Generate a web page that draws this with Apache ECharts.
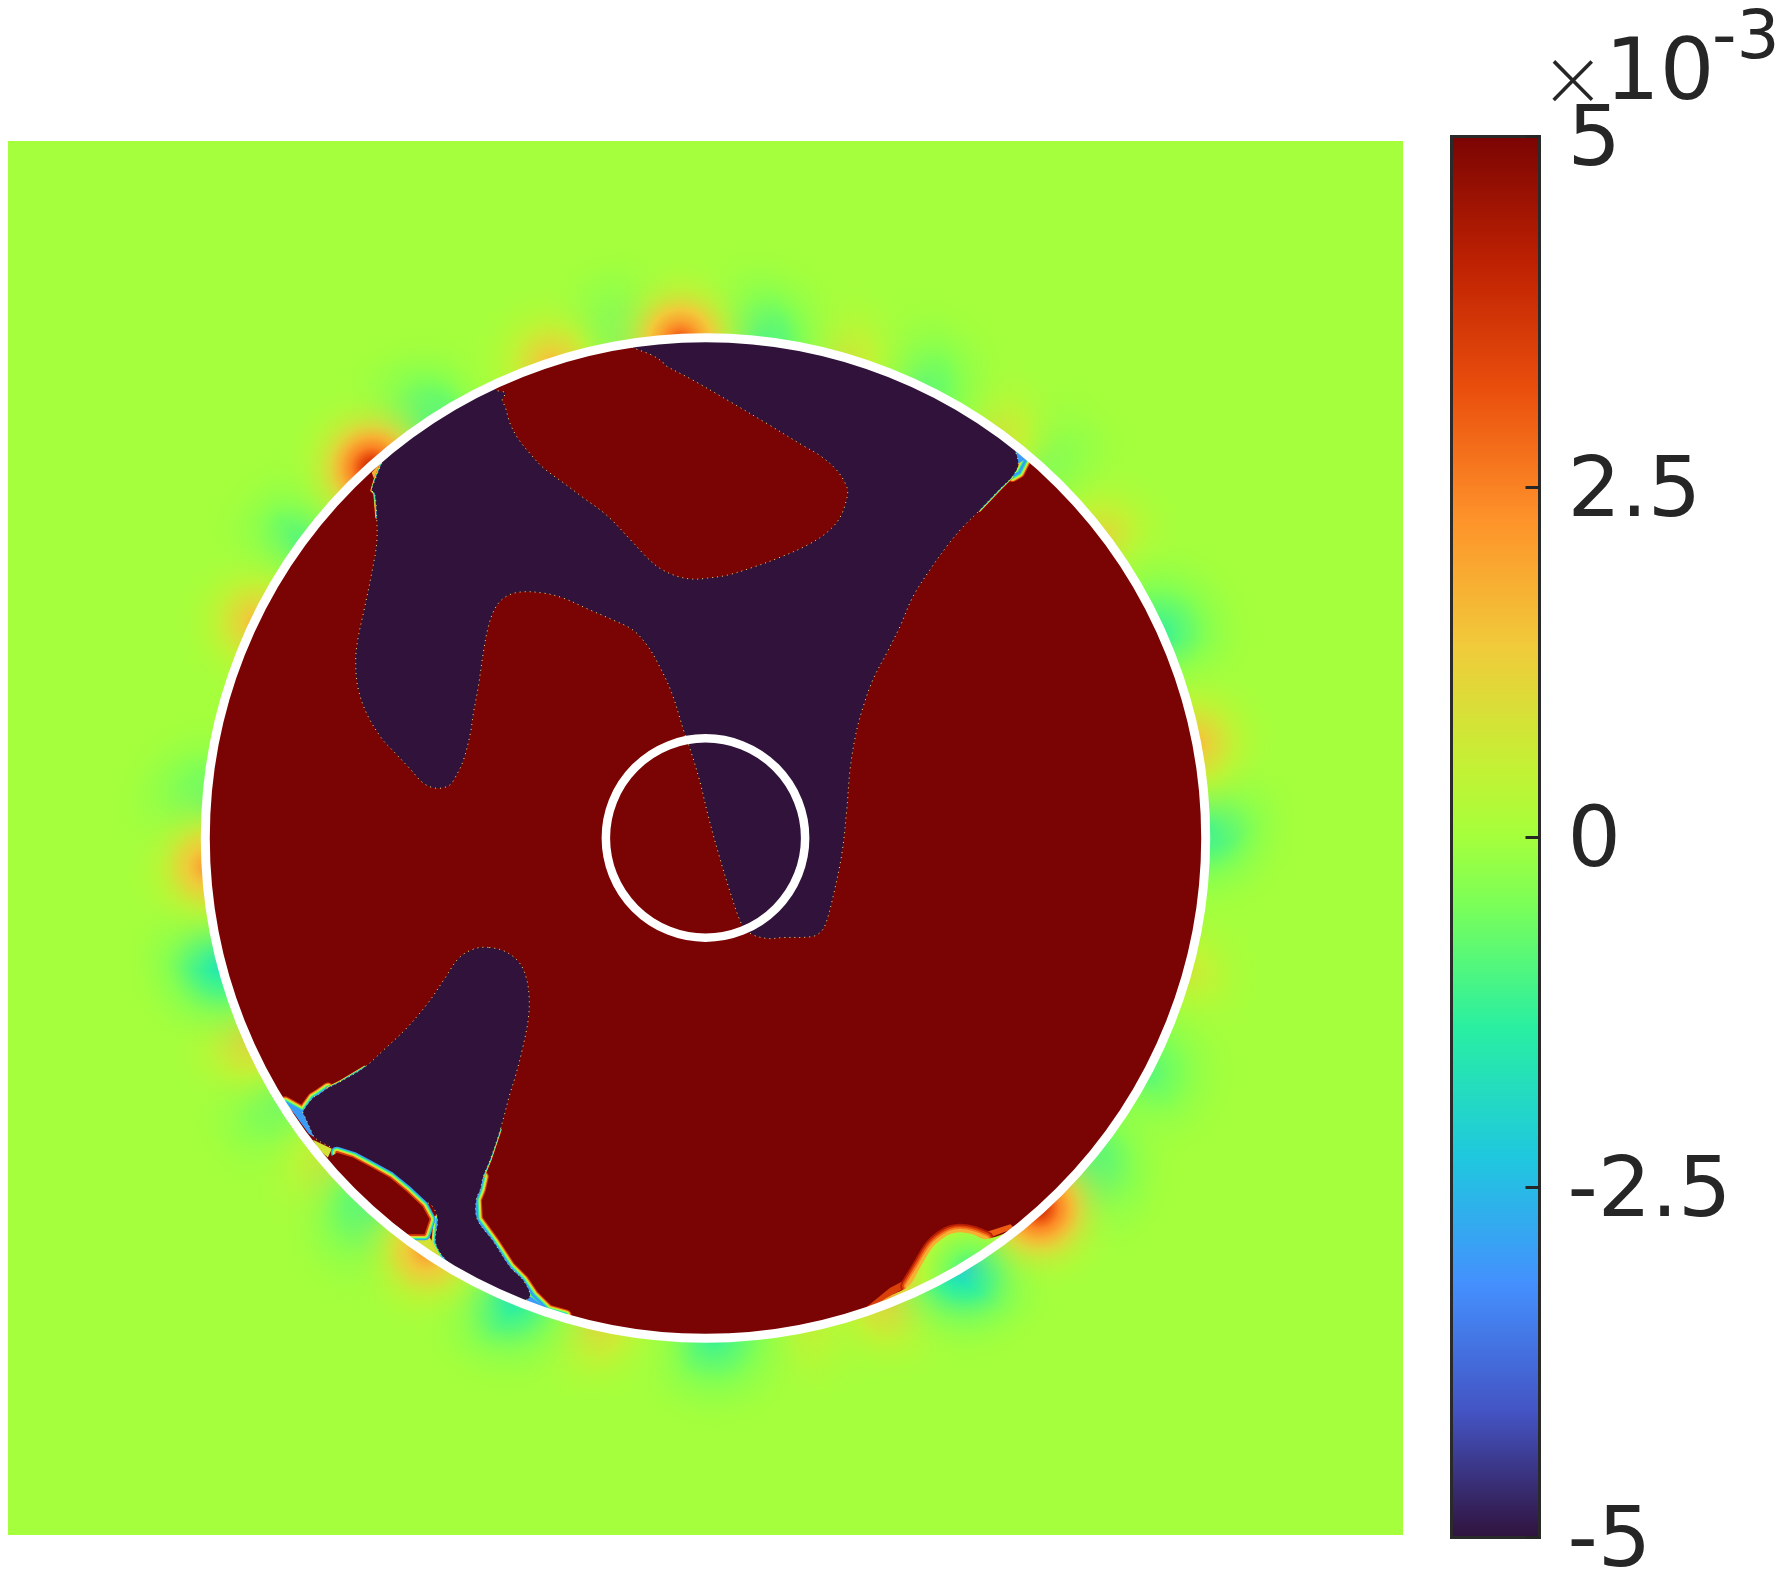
<!DOCTYPE html>
<html lang="en">
<head>
  <meta charset="UTF-8">
  <title>Field around a ring</title>
  <style>
    body{
      margin: 0;
      background: white;
    }
    .chart{
      width: 100vw;
      height: 100vh;
    }
  </style>
</head>
<body>
<div class="chart"></div>
<script src="https://cdn.jsdelivr.net/npm/echarts@6/dist/echarts.min.js"></script>
<script>
  // colour scale, bottom (-5) to top (5)
  const colorbarStops = ['#30123b','#4454c4','#4490fe','#1fc8de','#29efa2','#7dff56','#a5ff3c','#c1f334','#f1ca3a','#fe922a','#ea4f0d','#be2102','#7a0403'];
  const colorbarOffsets = [0,0.0909,0.1818,0.2727,0.3636,0.4545,0.5,0.5454,0.6363,0.7272,0.8181,0.9090,1];
  const colorbarMin = -5;
  const colorbarMax = 5;
  const colorbarStep = 2.5;

  // geometry in mm
  const plotRange = 700;
  const outerRadius = 502;
  const innerRadius = 100;

  // field just outside the outer ring (angle in degrees, value in 1e-3)
  const rimAngles = [92.9,99.6,84.2,108,124.5,132,144,154.3,176.5,183.3,194.2,203.3,212,222,229,236,246.7,257,271,282,292,301.3,312,318.3,332,344,1.5,11,24.3,37,48,54.6,64.9,74.2];
  const rimValues = [3,-1.5,-1.2,1.5,-1.3,3.8,-1,1.5,-1,2,-1.6,1.5,-1,1.3,-1.4,2,-1.5,1.2,-1.1,0.7,1.5,-2,3.7,-1.6,-0.8,0.7,-1.3,1.5,-1.1,1,-0.9,0.9,-0.9,0.9];

  // -5 region boundaries
  const darkNorthEdge = [[314,376],[308,363],[296,351],[275,329],[258,312],[243,294],[225,269],[208,242],[195,212],[182,186],[168,159],[158,131],[151,105],[145,68],[142,31],[137,-15],[128,-59],[121,-85],[116,-94],[107,-99],[77,-100],[63,-101],[47,-97],[38,-89],[33,-79],[24,-52],[14,-19],[3,21],[-6,58],[-15,88],[-21,105],[-34,146],[-48,176],[-59,194],[-73,209],[-93,219],[-116,229],[-143,241],[-163,246],[-186,247],[-201,242],[-211,231],[-218,212],[-223,186],[-228,152],[-233,125],[-236,105],[-243,78],[-250,63],[-257,53],[-270,50],[-283,55],[-297,70],[-314,88],[-325,100],[-340,125],[-349,152],[-351,179],[-349,199],[-342,232],[-335,266],[-330,296],[-330,322],[-332,346],[-335,349],[-332,359],[-324,379]];
  const darkSouthRight = [[-217,-110],[-201,-114],[-187,-125],[-180,-140],[-177,-160],[-178,-183],[-184,-213],[-191,-240],[-196,-256],[-206,-293],[-216,-323],[-223,-340],[-226,-353],[-230,-363],[-229,-383],[-213,-405],[-196,-431],[-183,-444],[-176,-460]];
  const darkSouthLeft = [[-263,-421],[-271,-406],[-269,-383],[-274,-370],[-284,-363],[-300,-348],[-317,-336],[-340,-325],[-360,-316],[-377,-310],[-392,-301],[-397,-291],[-402,-280],[-404,-275],[-394,-261],[-389,-258],[-379,-251],[-367,-245],[-342,-230],[-321,-211],[-300,-191],[-278,-165],[-261,-140],[-247,-120],[-231,-111]];

  // +5 pockets cut into the -5 region
  const lobeEdge = [[-74,493],[-54,485],[-43,478],[-41,475],[-13,460],[25,438],[62,416],[98,394],[115,384],[132,369],[142,352],[142,342],[135,322],[122,307],[102,294],[75,282],[48,272],[22,264],[2,261],[-13,260],[-29,263],[-46,271],[-58,281],[-73,297],[-99,324],[-123,342],[-143,357],[-163,372],[-176,386],[-188,401],[-196,416],[-201,433],[-204,440],[-201,447],[-211,450]];
  const lensEdge = [[-370,-316],[-354,-321],[-337,-330],[-317,-341],[-300,-355],[-284,-370],[-277,-383],[-282,-398],[-300,-398]];

  // sharp fronts between the two saturated regions
  const wideFronts = [
    [[322,381],[315,367],[308,363]],
    [[-223,-340],[-226,-353],[-230,-363],[-229,-383],[-213,-405],[-196,-431],[-183,-444],[-173,-459],[-158,-474],[-140,-479]],
    [[-404,-275],[-394,-261],[-389,-258],[-379,-251]],
    [[-422,-265],[-404,-275]]
  ];
  const thinFronts = [
    [[308,363],[296,351],[275,329]],
    [[-74,493],[-54,485],[-43,478],[-41,475],[-13,460]],
    [[-211,450],[-201,447],[-204,440],[-201,433],[-196,416],[-188,401],[-176,386]],
    [[-330,322],[-332,346],[-335,349],[-332,359],[-324,379]],
    [[-206,-293],[-216,-323],[-223,-340]],
    [[-379,-251],[-367,-245],[-342,-230]]
  ];
  const footFronts = [[[-269,-383],[-271,-406],[-263,-421],[-250,-431]]];
  const frontLevels = [3.5,1.5,0,-1.5,-3];

  // small patches against the ring
  const warmPatches = [
    [[-213,450],[-181,466],[-201,447]],
    [[-335,367],[-324,379],[-332,359]],
    [[-394,-303],[-375,-312],[-379,-321],[-388,-313]],
    [[-300,-399],[-277,-401],[-262,-423],[-250,-431],[-281,-415]],
    [[153,-478],[185,-452],[204,-442],[204,-450],[185,-460]],
    [[281,-396],[306,-388],[310,-392],[281,-403]]
  ];
  const warmPatchValues = [3,1.8,0.8,0.8,3.5,3];
  const bluePatches = [
    [[306,394],[322,381],[314,376]],
    [[-420,-267],[-404,-275],[-397,-291],[-392,-301],[-398,-297]],
    [[-183,-463],[-176,-460],[-158,-474]]
  ];
  const bluePatchValues = [-3,-3,-3];

  // field bulge at the lower right, inside the ring
  const bulgeEdge = [[153,-478],[185,-460],[204,-450],[215,-432],[228,-411],[243,-399],[255,-396],[268,-398],[281,-403],[306,-395]];
  const bulgeCentre = [265,-436];
  const bulgeValues = [-1.2,-0.5,0.2,1.2,2.2];
  const bulgeOffsets = [0,0.25,0.5,0.8,1];
  const bulgeFrontLevels = [4.2,3.4,2.6,1.8];

  const scaleColor = (v) => {
    const t = (v - colorbarMin) / (colorbarMax - colorbarMin);
    for (let i = 1; i < colorbarOffsets.length; i++) {
      if (t <= colorbarOffsets[i]) {
        const f = (t - colorbarOffsets[i - 1]) / (colorbarOffsets[i] - colorbarOffsets[i - 1]);
        return echarts.color.lerp(f, [colorbarStops[i - 1], colorbarStops[i]]);
      }
    }
    return colorbarStops[colorbarStops.length - 1];
  };

  const rimArc = (from, to) => {
    const pts = [];
    const n = Math.ceil(Math.abs(to - from) / 4);
    for (let i = 0; i <= n; i++) {
      const a = (from + (to - from) * i / n) * Math.PI / 180;
      pts.push([500 * Math.cos(a), 500 * Math.sin(a)]);
    }
    return pts;
  };

  const darkNorth = [...rimArc(130.4, 52.2), ...darkNorthEdge];
  const darkSouth = [...darkSouthRight, ...rimArc(248.4, 240.3), ...darkSouthLeft];
  const lobe = [...lobeEdge, ...rimArc(115, 98.5)];
  const lens = [...lensEdge, ...rimArc(233, 220.3)];
  const bulge = [...bulgeEdge, ...rimArc(307.8, 287.7)];

  const dotted = { stroke: '#e6e67c', lineWidth: 1, lineDash: [1, 4] };

  // one custom layer drawn from a list of data points
  const layer = (rows, draw) => ({
    type: 'custom',
    xAxisIndex: 0,
    yAxisIndex: 0,
    silent: true,
    clip: true,
    encode: { x: 0, y: 1 },
    data: rows,
    renderItem(params, api) {
      return draw(params, api);
    }
  });
  const onFirst = (rows, children) => layer(rows, (params, api) => {
    if (params.dataIndex) return null;
    return { type: 'group', children: children(api) };
  });
  const toPx = (api, pts) => pts.map((p) => api.coord(p));

  const spots = rimAngles
    .map((a, i) => [500 * Math.cos(a * Math.PI / 180), 500 * Math.sin(a * Math.PI / 180), rimValues[i]])
    .sort((a, b) => Math.abs(a[2]) - Math.abs(b[2]));

  const spotLayer = layer(spots, (params, api) => {
    const v = api.value(2);
    const c = api.coord([api.value(0), api.value(1)]);
    const r = api.size([v < 0 ? 115 : 105, 0])[0];
    const falloff = v < 0 ? 2 : 2.6;
    const colorStops = [0, 0.06, 0.12, 0.2, 0.3, 0.4, 0.5, 0.65, 0.8, 1].map((t) => ({
      offset: t,
      color: echarts.color.modifyAlpha(scaleColor(v * 1.15 * Math.pow(1 - t, falloff)), Math.min(1, (1 - t) / 0.7))
    }));
    return {
      type: 'circle',
      shape: { cx: c[0], cy: c[1], r },
      style: { fill: { type: 'radial', x: 0.5, y: 0.5, r: 0.5, colorStops } }
    };
  });

  const circleLayer = (radius, style) => onFirst([[0, 0]], (api) => {
    const c = api.coord([0, 0]);
    return [{ type: 'circle', shape: { cx: c[0], cy: c[1], r: api.size([radius, 0])[0] }, style }];
  });

  const patchLayer = (patches, values) => onFirst(patches.flat(), (api) => patches.map((pts, i) => ({
    type: 'polygon',
    shape: { points: toPx(api, pts) },
    style: { fill: scaleColor(values[i]) }
  })));

  const frontLayer = (fronts, levels, width) => onFirst(fronts.flat(), (api) => {
    const children = [];
    levels.forEach((v, k) => {
      fronts.forEach((pts) => {
        children.push({
          type: 'polyline',
          shape: { points: toPx(api, pts) },
          style: {
            fill: null,
            stroke: scaleColor(v),
            lineWidth: width * (levels.length - k) / levels.length,
            lineJoin: 'round',
            lineCap: 'round'
          }
        });
      });
    });
    return children;
  });

  const regionLayer = (pts, value) => onFirst(pts, (api) => [{
    type: 'polygon',
    shape: { points: toPx(api, pts), smooth: 0.35 },
    style: { fill: scaleColor(value), ...dotted }
  }]);

  const lensLayer = onFirst(lens, (api) => {
    const rims = [-3, -1.5, 0, 1.5, 3.5].map((v, k) => ({
      type: 'polyline',
      shape: { points: toPx(api, lensEdge) },
      style: { fill: null, stroke: scaleColor(v), lineWidth: 12 - k * 2.2, lineJoin: 'round', lineCap: 'round' }
    }));
    return [...rims, { type: 'polygon', shape: { points: toPx(api, lens) }, style: { fill: scaleColor(5) } }];
  });

  const bulgeLayer = onFirst(bulge, (api) => {
    const points = toPx(api, bulge);
    const c = api.coord(bulgeCentre);
    const rims = bulgeFrontLevels.map((v, k) => ({
      type: 'polyline',
      shape: { points: toPx(api, bulgeEdge.slice(2, -1)), smooth: 0.3 },
      style: { fill: null, stroke: scaleColor(v), lineWidth: 17 - k * 3.5, lineCap: 'round', lineJoin: 'round' }
    }));
    const colorStops = bulgeValues.map((v, i) => ({ offset: bulgeOffsets[i], color: scaleColor(v) }));
    return [...rims, {
      type: 'polygon',
      shape: { points, smooth: 0.3 },
      style: { fill: new echarts.graphic.RadialGradient(c[0], c[1], api.size([90, 0])[0], colorStops, true) }
    }];
  });

  const colorbarLayer = {
    type: 'custom',
    xAxisIndex: 1,
    yAxisIndex: 1,
    silent: true,
    clip: false,
    z: 3,
    encode: { x: 0, y: 1 },
    data: [[0, colorbarMin, 1, colorbarMax]],
    renderItem(params, api) {
      const a = api.coord([api.value(0), api.value(1)]);
      const b = api.coord([api.value(2), api.value(3)]);
      return {
        type: 'rect',
        shape: { x: a[0], y: b[1], width: b[0] - a[0], height: a[1] - b[1] },
        style: {
          fill: {
            type: 'linear', x: 0, y: 1, x2: 0, y2: 0,
            colorStops: colorbarStops.map((color, i) => ({ offset: colorbarOffsets[i], color }))
          },
          stroke: '#2a2a2a',
          lineWidth: 3
        }
      };
    }
  };

  const instance = echarts.init(document.querySelector('.chart'));
  const option = {
    animation: false,
    backgroundColor: '#ffffff',
    grid: [
      { left: 8, top: 141, width: 1395, height: 1394, show: true, borderWidth: 0, backgroundColor: scaleColor(0) },
      { left: 1451.5, top: 136.5, width: 88, height: 1401, show: false, outerBoundsMode: 'none' }
    ],
    xAxis: [
      { type: 'value', gridIndex: 0, min: -plotRange, max: plotRange, show: false },
      { type: 'value', gridIndex: 1, min: 0, max: 1, show: false }
    ],
    yAxis: [
      { type: 'value', gridIndex: 0, min: -plotRange, max: plotRange, show: false },
      {
        type: 'value',
        gridIndex: 1,
        min: colorbarMin,
        max: colorbarMax,
        interval: colorbarStep,
        position: 'right',
        z: 6,
        axisLine: { show: false, onZero: false },
        splitLine: { show: false },
        axisTick: { show: true, inside: true, length: 14, lineStyle: { color: '#262626', width: 3 } },
        axisLabel: {
          margin: 28,
          color: '#262626',
          formatter: (v) => '{tick|' + v + '}',
          rich: { tick: { fontSize: 84, fontFamily: 'DejaVu Sans', color: '#262626', padding: [14, 0, 0, 0] } }
        }
      }
    ],
    graphic: [
      { type: 'text', left: 1545, top: 34, silent: true, style: { text: '×', font: '300 96px Lato', fill: '#262626' } },
      { type: 'text', left: 1605, top: 34, silent: true, style: { text: '10', font: '86px "DejaVu Sans"', fill: '#262626' } },
      { type: 'text', left: 1712, top: 6, silent: true, style: { text: '-3', font: '68px "DejaVu Sans"', fill: '#262626' } }
    ],
    series: [
      spotLayer,
      circleLayer(outerRadius, { fill: scaleColor(5) }),
      patchLayer(warmPatches, warmPatchValues),
      bulgeLayer,
      frontLayer(footFronts, frontLevels.slice(1), 8),
      frontLayer(wideFronts, frontLevels, 11),
      frontLayer(thinFronts, frontLevels, 3),
      patchLayer(bluePatches, bluePatchValues),
      regionLayer(darkNorth, -5),
      regionLayer(darkSouth, -5),
      regionLayer(lobe, 5),
      lensLayer,
      circleLayer(outerRadius, { fill: 'transparent', stroke: '#ffffff', lineWidth: 9 }),
      circleLayer(innerRadius, { fill: 'transparent', stroke: '#ffffff', lineWidth: 8.5 }),
      colorbarLayer
    ]
  };
  instance.setOption(option);
</script>
</body>
</html>
